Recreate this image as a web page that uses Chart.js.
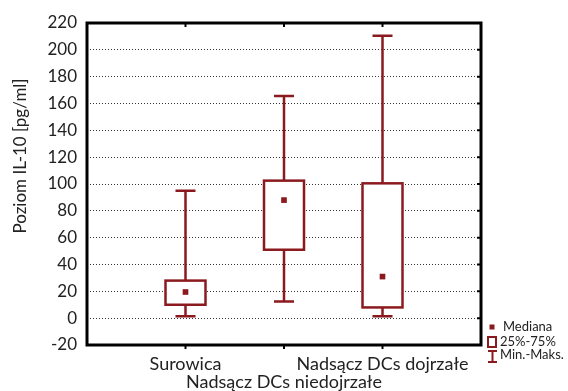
<!DOCTYPE html>
<html>
<head>
<meta charset="utf-8">
<script src="https://cdn.jsdelivr.net/npm/chart.js@4"></script>
<style>
  html, body { margin: 0; padding: 0; background: #fff; }
  #wrap { width: 568px; height: 391px; }
</style>
</head>
<body>
<div id="wrap"><canvas id="chart"></canvas></div>
<script>
// Dane z wykresu (IL-10 pg/ml)
const categories = ['Surowica', 'Nadsącz DCs niedojrzałe', 'Nadsącz DCs dojrzałe'];
const positions = [1, 2, 3];
const mins = [1.5, 12.5, 1.5];
const q1 = [10, 51, 8];
const medians = [19.5, 88, 31];
const q3 = [28, 102.5, 100.5];
const maxs = [95, 165.5, 210.5];
const yTicks = [-20, 0, 20, 40, 60, 80, 100, 120, 140, 160, 180, 200, 220];

const RED = '#8B1A1F';
const FONT = 'Lato, "Open Sans", sans-serif';

// pudełka i wąsy rysowane przez skale wykresu
const boxPlugin = {
    id: 'boxes',
    beforeDatasetsDraw(chart) {
        const ctx = chart.ctx;
        const xs = chart.scales.x, ys = chart.scales.y;
        ctx.save();
        ctx.strokeStyle = RED;
        ctx.lineWidth = 2.5;
        positions.forEach((p, i) => {
            const x = xs.getPixelForValue(p);
            const yMin = ys.getPixelForValue(mins[i]);
            const yMax = ys.getPixelForValue(maxs[i]);
            const yQ1 = ys.getPixelForValue(q1[i]);
            const yQ3 = ys.getPixelForValue(q3[i]);
            ctx.beginPath();
            ctx.moveTo(x, yMax); ctx.lineTo(x, yQ3);
            ctx.moveTo(x, yQ1); ctx.lineTo(x, yMin);
            ctx.moveTo(x - 10, yMax); ctx.lineTo(x + 10, yMax);
            ctx.moveTo(x - 10, yMin); ctx.lineTo(x + 10, yMin);
            ctx.stroke();
            ctx.fillStyle = '#fff';
            ctx.fillRect(x - 20, yQ3, 40, yQ1 - yQ3);
            ctx.strokeRect(x - 20, yQ3, 40, yQ1 - yQ3);
        });
        ctx.restore();
    },
    afterDraw(chart) {
        const ctx = chart.ctx;
        const a = chart.chartArea;
        const xs = chart.scales.x, ys = chart.scales.y;
        ctx.save();
        // ramka
        ctx.strokeStyle = '#000';
        ctx.lineWidth = 3;
        ctx.strokeRect(a.left, a.top, a.right - a.left, a.bottom - a.top);
        // znaczniki
        ctx.lineWidth = 2;
        ctx.beginPath();
        positions.forEach(p => {
            const x = xs.getPixelForValue(p);
            ctx.moveTo(x, a.top); ctx.lineTo(x, a.top + 4);
            ctx.moveTo(x, a.bottom); ctx.lineTo(x, a.bottom + 4);
        });
        yTicks.forEach(v => {
            const y = ys.getPixelForValue(v);
            ctx.moveTo(a.right, y); ctx.lineTo(a.right - 4, y);
        });
        ctx.stroke();

        // tytuł osi Y
        ctx.fillStyle = '#222';
        ctx.font = '17px ' + FONT;
        ctx.textAlign = 'center';
        ctx.textBaseline = 'middle';
        ctx.translate(21, 156);
        ctx.rotate(-Math.PI / 2);
        ctx.fillText('Poziom IL-10 [pg/ml]', 0, 0);
        ctx.restore();

        // legenda
        ctx.save();
        ctx.fillStyle = RED;
        ctx.fillRect(489.5, 324.5, 5, 5);
        ctx.strokeStyle = RED;
        ctx.lineWidth = 2;
        ctx.strokeRect(488, 337, 8, 10);
        ctx.beginPath();
        ctx.moveTo(488, 351); ctx.lineTo(497, 351);
        ctx.moveTo(492.5, 351); ctx.lineTo(492.5, 362);
        ctx.moveTo(488, 362); ctx.lineTo(497, 362);
        ctx.stroke();
        ctx.fillStyle = '#222';
        ctx.font = '13px ' + FONT;
        ctx.textAlign = 'left';
        ctx.textBaseline = 'middle';
        ctx.fillText('Mediana', 503, 327);
        ctx.fillText('25%-75%', 500, 342);
        ctx.fillText('Min.-Maks.', 500, 355);
        ctx.restore();
    }
};

new Chart(document.getElementById('chart'), {
    type: 'scatter',
    data: {
        datasets: [{
            label: 'Mediana',
            data: positions.map((p, i) => ({ x: p, y: medians[i] })),
            pointStyle: 'rect',
            pointRadius: 4,
            backgroundColor: RED,
            borderColor: RED,
            borderWidth: 0
        }]
    },
    options: {
        responsive: true,
        maintainAspectRatio: false,
        animation: false,
        layout: { padding: { top: 23, right: 87, left: 0, bottom: 0 } },
        plugins: {
            legend: { display: false },
            tooltip: { enabled: false }
        },
        scales: {
            x: {
                type: 'linear',
                min: 0,
                max: 4,
                afterBuildTicks: axis => { axis.ticks = positions.map(v => ({ value: v })); },
                afterFit: axis => { axis.height = 46; },
                grid: { display: false },
                border: { display: false },
                ticks: {
                    color: '#222',
                    font: { family: FONT, size: 18, lineHeight: 1.0 },
                    padding: 2,
                    maxRotation: 0,
                    autoSkip: false,
                    callback: (v) => {
                        const i = positions.indexOf(v);
                        if (i === 1) return ['', categories[i]];
                        return categories[i];
                    }
                }
            },
            y: {
                min: -20,
                max: 220,
                afterBuildTicks: axis => { axis.ticks = yTicks.map(v => ({ value: v })); },
                afterFit: axis => { axis.width = 87; },
                grid: {
                    color: '#333',
                    lineWidth: 1,
                    drawTicks: false
                },
                border: { display: false, dash: [1, 2] },
                ticks: {
                    color: '#222',
                    font: { family: FONT, size: 17 },
                    padding: 10
                }
            }
        }
    },
    plugins: [boxPlugin]
});
</script>
</body>
</html>
